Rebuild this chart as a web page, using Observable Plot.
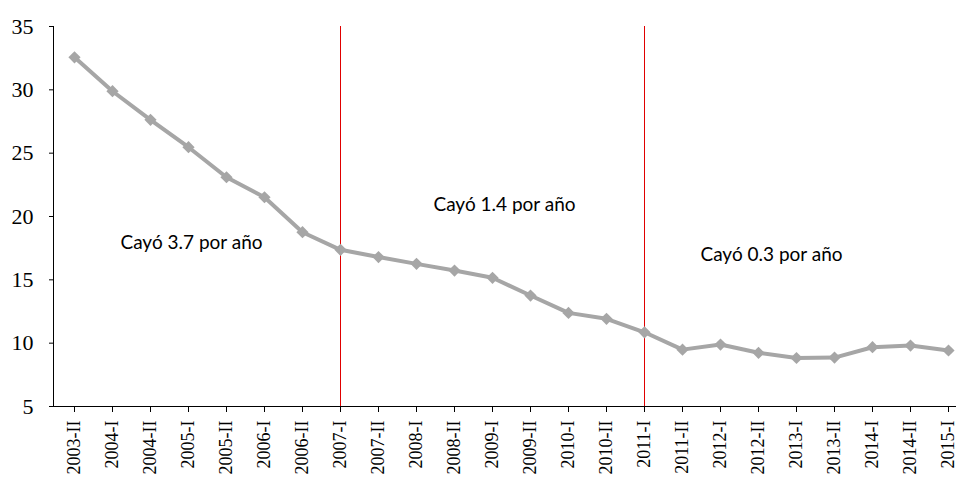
<!DOCTYPE html>
<html><head><meta charset="utf-8">
<script src="https://cdn.jsdelivr.net/npm/d3@7"></script>
<script src="https://cdn.jsdelivr.net/npm/@observablehq/plot@0.6"></script>
<style>body{margin:0;background:#fff}</style>
</head><body><div id="chart"></div>
<script>
const periods = ["2003-II","2004-I","2004-II","2005-I","2005-II","2006-I","2006-II","2007-I","2007-II","2008-I","2008-II","2009-I","2009-II","2010-I","2010-II","2011-I","2011-II","2012-I","2012-II","2013-I","2013-II","2014-I","2014-II","2015-I"];
const values = [32.57,29.89,27.63,25.47,23.1,21.52,18.76,17.37,16.8,16.26,15.73,15.16,13.76,12.39,11.92,10.86,9.49,9.89,9.24,8.83,8.86,9.68,9.81,9.42];
const yTicks = [5,10,15,20,25,30,35];
const breaks = ["2007-I","2011-I"];
const notes = ["Cayó 3.7 por año","Cayó 1.4 por año","Cayó 0.3 por año"];
const noteX = ["2005-I","2009-I","2012-II"];
const noteY = [17.94,20.9,17.0];
const noteDx = [3,12,13];

const data = periods.map((p,i)=>({p, v: values[i]}));

const axisLines = (index, scales, vals, dims) => {
  const g = d3.create("svg:g").attr("stroke","#000").attr("stroke-width",1).attr("shape-rendering","crispEdges");
  const y0 = scales.y(5);
  g.append("line").attr("x1", dims.marginLeft).attr("x2", dims.width).attr("y1", y0).attr("y2", y0);
  g.append("line").attr("x1", dims.marginLeft).attr("x2", dims.marginLeft).attr("y1", scales.y(35)).attr("y2", y0);
  return g.node();
};

const chart = Plot.plot({
  width: 956,
  height: 482,
  marginTop: 26,
  marginBottom: 76,
  marginLeft: 53,
  marginRight: 0,
  style: {fontFamily: "Liberation Serif", background: "#fff", color: "#000"},
  x: {type: "point", domain: periods, range: [74, 948], padding: 0, round: false},
  y: {domain: [5, 35]},
  marks: [
    Plot.axisY(yTicks, {anchor: "left", tickSize: 4, tickPadding: 16, fontSize: 22, fontFamily: "Liberation Serif", label: null}),
    Plot.axisX({anchor: "bottom", tickSize: 6, tickPadding: 8, tickRotate: -90, fontSize: 18, fontFamily: "Liberation Serif", label: null}),
    axisLines,
    Plot.ruleX(breaks, {y1: 5, y2: 35, stroke: "#e00000", strokeWidth: 1.2, shapeRendering: "crispEdges"}),
    Plot.line(data, {x: "p", y: "v", stroke: "#a6a6a6", strokeWidth: 4}),
    Plot.dot(data, {x: "p", y: "v", symbol: "diamond2", r: 5.5, fill: "#a6a6a6", stroke: "none"}),
    ...notes.map((t,i) => Plot.text([t], {x: () => noteX[i], y: () => noteY[i], text: d => d, dx: noteDx[i], fontSize: 19, fontFamily: "Lato", fill: "#000"}))
  ]
});
document.getElementById("chart").append(chart);
</script>
</body></html>
